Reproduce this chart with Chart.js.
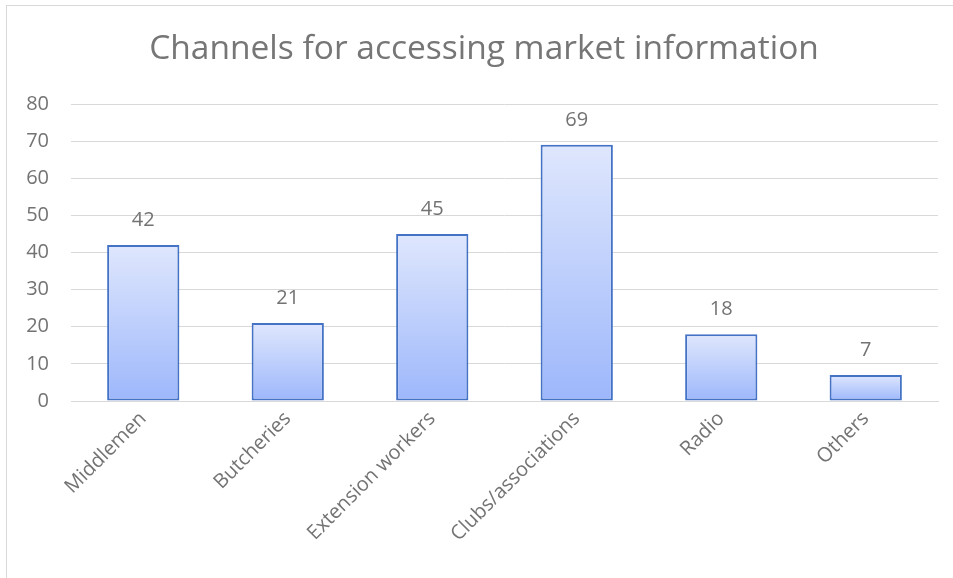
<!DOCTYPE html>
<html>
<head>
<meta charset="utf-8">
<script src="https://cdn.jsdelivr.net/npm/chart.js@4.4.1/dist/chart.umd.min.js"></script>
<style>
  html, body { margin: 0; padding: 0; background: #fff; overflow: hidden; }
  #wrap { position: relative; width: 953px; height: 578px; overflow: hidden; }
  #frame { position: absolute; left: 6px; top: 5px; width: 1000px; height: 1000px; border: 1px solid #d9d9d9; box-sizing: border-box; }
  canvas { position: absolute; left: 0; top: 0; }
</style>
</head>
<body>
<div id="wrap">
  <div id="frame"></div>
  <canvas id="chart" width="953" height="578"></canvas>
</div>
<script>
const chartTitle = 'Channels for accessing market information';
const categories = ['Middlemen', 'Butcheries', 'Extension workers', 'Clubs/associations', 'Radio', 'Others'];
const values = [42, 21, 45, 69, 18, 7];
const yTicks = [0, 10, 20, 30, 40, 50, 60, 70, 80];

const FONT = '"Open Sans", sans-serif';
const GREY = '#737373';

// gradient per bar, light at top, darker blue at the bottom
function barGradient(context) {
    const chart = context.chart;
    const area = chart.chartArea;
    if (!area) return '#b4c7fb';
    const y = chart.scales.y;
    const top = y.getPixelForValue(context.raw);
    const bottom = y.getPixelForValue(0);
    const g = chart.ctx.createLinearGradient(0, top, 0, bottom);
    g.addColorStop(0, '#dfe7fd');
    g.addColorStop(1, '#9db7fb');
    return g;
}

// values above each bar
const barLabels = {
    id: 'barLabels',
    afterDatasetsDraw(chart) {
        const ctx = chart.ctx;
        const meta = chart.getDatasetMeta(0);
        ctx.save();
        ctx.font = '20px ' + FONT;
        ctx.fillStyle = GREY;
        ctx.textAlign = 'center';
        ctx.textBaseline = 'middle';
        meta.data.forEach((bar, i) => {
            ctx.fillText(String(values[i]), bar.x, bar.y - 25);
        });
        ctx.restore();
    }
};

// title is centred on the whole (wider) chart frame, not the canvas
const frameTitle = {
    id: 'frameTitle',
    afterDraw(chart) {
        const ctx = chart.ctx;
        ctx.save();
        ctx.font = '33.5px ' + FONT;
        ctx.fillStyle = '#767676';
        ctx.textAlign = 'center';
        ctx.textBaseline = 'middle';
        ctx.fillText(chartTitle, 484, 49);
        ctx.restore();
    }
};

new Chart(document.getElementById('chart'), {
    type: 'bar',
    data: {
        labels: categories,
        datasets: [{
            data: values,
            backgroundColor: barGradient,
            borderColor: '#4472c4',
            borderWidth: 2,
            borderSkipped: false,
            categoryPercentage: 1,
            barPercentage: 0.5
        }]
    },
    options: {
        responsive: false,
        animation: false,
        layout: { padding: { left: 0, right: 15, top: 104, bottom: 0 } },
        scales: {
            x: {
                grid: { display: false, drawTicks: false },
                border: { color: '#d9d9d9', width: 1 },
                ticks: {
                    color: GREY,
                    font: { family: FONT, size: 20 },
                    maxRotation: 45,
                    minRotation: 45,
                    padding: 6
                },
                afterFit(scale) { scale.height = 177; }
            },
            y: {
                min: 0,
                max: 80,
                afterBuildTicks(scale) { scale.ticks = yTicks.map(v => ({ value: v })); },
                grid: { color: '#d9d9d9', drawTicks: false },
                border: { display: false },
                ticks: {
                    color: GREY,
                    font: { family: FONT, size: 20 },
                    padding: 22
                },
                afterFit(scale) { scale.width = 71; }
            }
        },
        plugins: {
            legend: { display: false },
            tooltip: { enabled: false },
            title: { display: false }
        }
    },
    plugins: [barLabels, frameTitle]
});
</script>
</body>
</html>
